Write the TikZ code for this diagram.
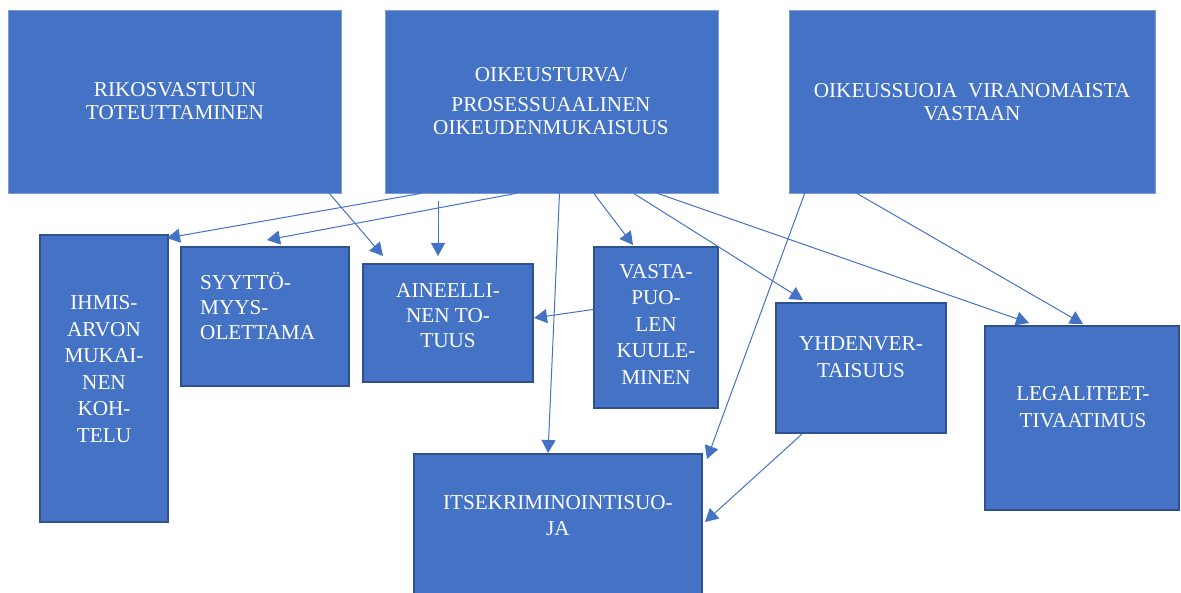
\documentclass[tikz,border=0pt]{standalone}
\usepackage{fontspec}
\setmainfont{Liberation Serif}
\usetikzlibrary{arrows.meta,calc}
\definecolor{boxblue}{HTML}{4472C4}
\definecolor{boxedge}{HTML}{2F528F}
\definecolor{topedge}{HTML}{7D9CD6}
\begin{document}
\begin{tikzpicture}[x=1pt,y=-1pt,
  topbox/.style={fill=boxblue,draw=topedge,line width=0.6pt,inner sep=0pt},
  lowbox/.style={fill=boxblue,draw=boxedge,line width=2pt,inner sep=0pt},
  toplbl/.style={text=white,font=\fontsize{21.2}{23}\selectfont,align=center,inner sep=0pt},
  lowlbl/.style={text=white,font=\fontsize{21.2}{26.5}\selectfont,align=center,inner sep=0pt},
  conn/.style={draw=boxblue,line width=1pt,-{Triangle[length=13pt,width=14pt]}}]
\useasboundingbox (0,0) rectangle (1181,593);
% top boxes
\node[topbox,minimum width=333pt,minimum height=183pt] (rik) at (174.5,101.5) {};
\node[topbox,minimum width=333pt,minimum height=183pt] (oik) at (551.5,101.5) {};
\node[topbox,minimum width=366pt,minimum height=183pt] (suo) at (972,101.5) {};
% lower boxes
\node[lowbox,minimum width=128pt,minimum height=287pt] (ihm) at (104,378.5) {};
\node[lowbox,minimum width=168pt,minimum height=139pt] (syy) at (265,316.5) {};
\node[lowbox,minimum width=170pt,minimum height=118pt] (ain) at (448,323) {};
\node[lowbox,minimum width=124pt,minimum height=161pt] (vas) at (656,327.5) {};
\node[lowbox,minimum width=170pt,minimum height=130pt] (yhd) at (861,368) {};
\node[lowbox,minimum width=194pt,minimum height=184pt] (leg) at (1082,418) {};
\node[lowbox,minimum width=288pt,minimum height=160pt] (itk) at (558,534) {};
% texts
\node[toplbl] (rikt) at (175,101) {RIKOSVASTUUN\\TOTEUTTAMINEN};
\node[toplbl] (oikt) at (551,101) {OIKEUSTURVA/\\[7pt]PROSESSUAALINEN\\OIKEUDENMUKAISUUS};
\node[toplbl] (suot) at (972,102) {OIKEUSSUOJA\ \ VIRANOMAISTA\\VASTAAN};
\node[lowlbl] (ihmt) at (104,369) {IHMIS-\\ARVON\\MUKAI-\\NEN\\KOH-\\TELU};
\node[lowlbl,align=left,anchor=west,font=\fontsize{21.2}{25}\selectfont] (syyt) at (200,306) {SYYTTÖ-\\MYYS-\\OLETTAMA};
\node[lowlbl,font=\fontsize{21.2}{25}\selectfont] (aint) at (448,316) {AINEELLI-\\NEN TO-\\TUUS};
\node[lowlbl] (vast) at (656,324) {VASTA-\\PUO-\\LEN\\KUULE-\\MINEN};
\node[lowlbl,font=\fontsize{21.2}{27}\selectfont] (yhdt) at (861,357) {YHDENVER-\\TAISUUS};
\node[lowlbl,font=\fontsize{21.2}{27}\selectfont] (legt) at (1083,407) {LEGALITEET-\\TIVAATIMUS};
\node[lowlbl,font=\fontsize{21.2}{26}\selectfont] (itkt) at (558,516) {ITSEKRIMINOINTISUO-\\JA};
% free start
\coordinate (c4) at (438,201);
% connectors
\draw[conn] ([xshift=37pt]oik.south west) -- ([xshift=-2pt,yshift=-4pt]ihm.north east);
\draw[conn] ([xshift=132pt]oik.south west) -- ([xshift=87pt,yshift=6pt]syy.north west);
\draw[conn] ([xshift=-12pt]rik.south east) -- ([xshift=21pt,yshift=7pt]ain.north west);
\draw[conn] (c4) -- ([xshift=76pt,yshift=7pt]ain.north west);
\draw[conn] ([xshift=8pt]oik.south) -- ([xshift=135pt]itk.north west);
\draw[conn] ([xshift=209pt]oik.south west) -- ([xshift=40pt,yshift=1pt]vas.north west);
\draw[conn] ([xshift=82pt]oik.south) -- ([xshift=28pt,yshift=2pt]yhd.north west);
\draw[conn] ([xshift=-61pt]oik.south east) -- ([xshift=45pt,yshift=2pt]leg.north west);
\draw[conn] ([xshift=16pt]suo.south west) -- ([xshift=4pt,yshift=-6pt]itk.north east);
\draw[conn] ([xshift=68pt]suo.south west) -- ([xshift=1pt,yshift=1pt]leg.north);
\draw[conn] ([xshift=27pt]yhd.south west) -- ([xshift=2pt,yshift=-69pt]itk.north east);
\draw[conn] ([yshift=18pt]vas.west) -- ([yshift=5pt]ain.east);
\end{tikzpicture}
\end{document}
